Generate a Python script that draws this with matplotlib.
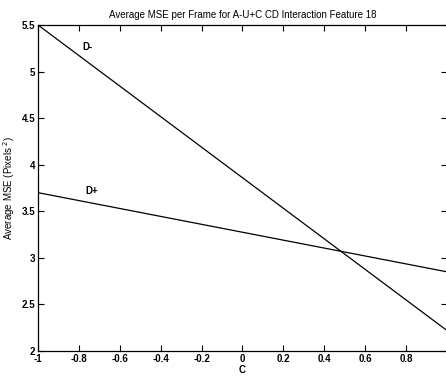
import numpy as np
import matplotlib
matplotlib.use("Agg")
import matplotlib.pyplot as plt

# values
c_vals = [-1, 1]
d_minus = [5.5, 2.22]
d_plus = [3.7, 2.85]
xticks = [-1, -0.8, -0.6, -0.4, -0.2, 0, 0.2, 0.4, 0.6, 0.8, 1]
xticklabels = ["-1", "-0.8", "-0.6", "-0.4", "-0.2", "0", "0.2", "0.4", "0.6", "0.8", ""]
yticks = [2, 2.5, 3, 3.5, 4, 4.5, 5, 5.5]
yticklabels = ["2", "2.5", "3", "3.5", "4", "4.5", "5", "5.5"]

plt.rcParams['font.family'] = ['Liberation Sans', 'DejaVu Sans']

fig = plt.figure(figsize=(4.46, 3.76), dpi=100)
ax = fig.add_axes([38/446, 1-351/376, 409/446, 326/376])

ax.plot(c_vals, d_minus, color='black', lw=0.9)
ax.plot(c_vals, d_plus, color='black', lw=0.9)
ax.text(-0.784, 5.26, "D-", fontsize=7, va='center', ha='left', fontweight='bold')
ax.text(-0.77, 3.72, "D+", fontsize=7, va='center', ha='left', fontweight='bold')

ax.set_xlim(-1, 1)
ax.set_ylim(2, 5.5)
ax.set_xticks(xticks)
ax.set_xticklabels(xticklabels, fontweight='bold')
ax.set_yticks(yticks)
ax.set_yticklabels(yticklabels, fontweight='bold')
ax.tick_params(direction='in', length=4, width=0.8, labelsize=7, pad=2,
               top=True, right=True)
for s in ax.spines.values():
    s.set_linewidth(0.9)

ax.set_title("Average MSE per Frame for A-U+C CD Interaction Feature 18", fontsize=7, pad=5)
ax.set_xlabel("C", fontsize=7, labelpad=1, fontweight='bold')
ax.set_ylabel("Average MSE (Pixels$^{\\ 2}$)", fontsize=7, labelpad=3)

fig.savefig("out.png", dpi=100)
